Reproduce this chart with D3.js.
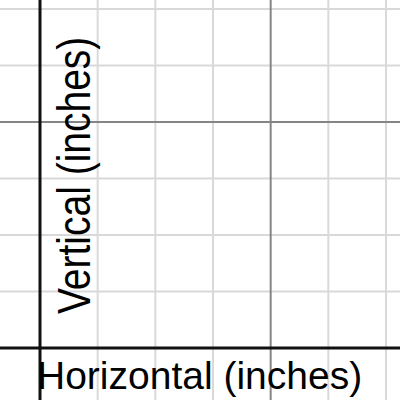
<!DOCTYPE html>
<html>
<head>
<meta charset="utf-8">
<script src="https://cdn.jsdelivr.net/npm/d3@7"></script>
<style>
  html, body { margin: 0; padding: 0; background: #fff; }
  svg { display: block; }
</style>
</head>
<body>
<svg id="chart" width="400" height="400"></svg>
<script>
// Data
const xMinor = [-1, 1, 2, 3, 5, 6, 7];
const xMajor = [4];
const yMinor = [-1, 1, 2, 3, 5, 6, 7];
const yMajor = [4];
const xLabel = "Horizontal (inches)";
const yLabel = "Vertical (inches)";

const W = 400, H = 400;
const svg = d3.select("#chart");
const x = d3.scaleLinear().domain([0, 6]).range([40, 386]);
const y = d3.scaleLinear().domain([0, 6]).range([348, 9]);

// minor grid
svg.append("g").selectAll("line").data(xMinor).join("line")
  .attr("x1", d => x(d)).attr("x2", d => x(d)).attr("y1", 0).attr("y2", H)
  .attr("stroke", "#d9d9d9").attr("stroke-width", 2);
svg.append("g").selectAll("line").data(yMinor).join("line")
  .attr("y1", d => y(d)).attr("y2", d => y(d)).attr("x1", 0).attr("x2", W)
  .attr("stroke", "#d9d9d9").attr("stroke-width", 2);

// major grid
svg.append("g").selectAll("line").data(xMajor).join("line")
  .attr("x1", d => x(d)).attr("x2", d => x(d)).attr("y1", 0).attr("y2", H)
  .attr("stroke", "#858585").attr("stroke-width", 2);
svg.append("g").selectAll("line").data(yMajor).join("line")
  .attr("y1", d => y(d)).attr("y2", d => y(d)).attr("x1", 0).attr("x2", W)
  .attr("stroke", "#858585").attr("stroke-width", 2);

// axes
svg.append("line").attr("x1", x(0)).attr("x2", x(0)).attr("y1", 0).attr("y2", H)
  .attr("stroke", "#111").attr("stroke-width", 3);
svg.append("line").attr("y1", y(0)).attr("y2", y(0)).attr("x1", 0).attr("x2", W)
  .attr("stroke", "#111").attr("stroke-width", 3);

// labels
svg.append("text")
  .attr("x", x(0) - 3).attr("y", 389)
  .attr("font-family", "Liberation Sans, Arial, Helvetica, sans-serif")
  .attr("font-size", 39).attr("fill", "#000")
  .text(xLabel);

svg.append("text")
  .attr("transform", `translate(${x(0) + 50},314) rotate(-90) scale(1,1.2)`)
  .attr("font-family", "Liberation Sans, Arial, Helvetica, sans-serif")
  .attr("font-size", 39).attr("fill", "#000")
  .text(yLabel);
</script>
</body>
</html>
